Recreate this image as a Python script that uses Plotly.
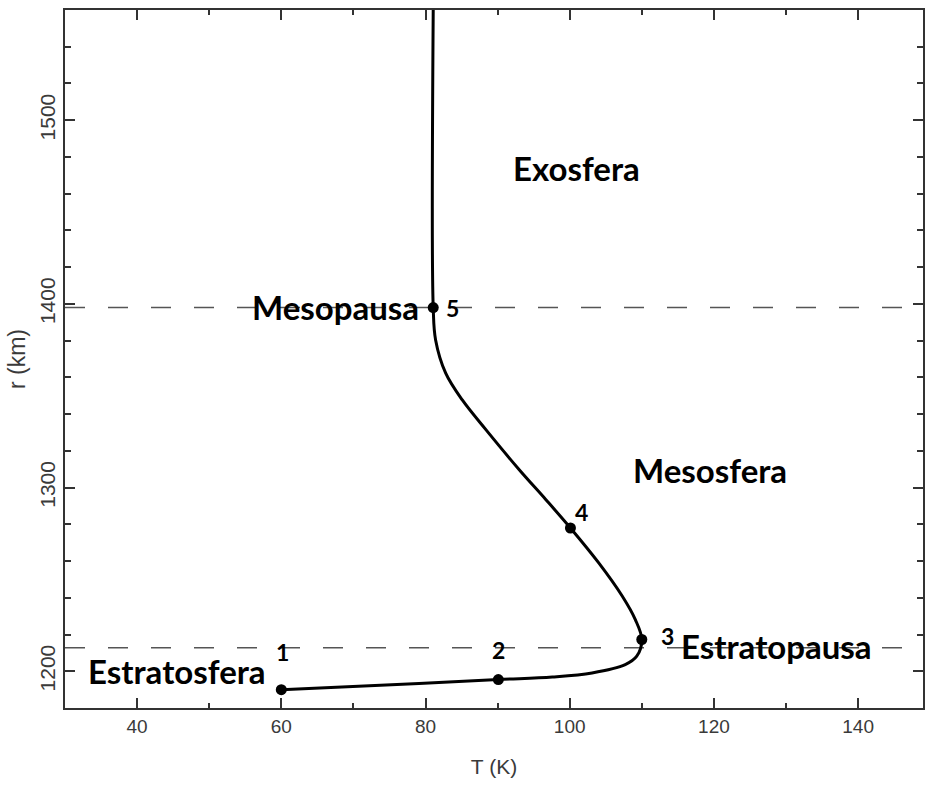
import plotly.graph_objects as go

# Temperature profile
profile_T = [60, 79.1, 90.1, 97.6, 103.1, 107.7, 109.3, 110.0, 109.1, 107.3, 104.0, 100.1,
             96.7, 93.0, 88.4, 85.1, 82.8, 81.4, 81.07, 81.07]
profile_r = [1190, 1193.3, 1195.5, 1196.9, 1199.1, 1203.6, 1208.2, 1217.3, 1228.1, 1240.8, 1259.1, 1278,
             1293.4, 1309.7, 1331.4, 1347.7, 1362.3, 1380.4, 1398, 1560]

# Marked points
point_T = [60, 90.1, 110.0, 100.1, 81.07]
point_r = [1190, 1195.5, 1217.3, 1278, 1398]
point_labels = ["1", "2", "3", "4", "5"]
label_T = [60.2, 90.1, 113.5, 101.7, 83.8]
label_r = [1210.7, 1211.8, 1219.4, 1286.8, 1397.8]

# Boundaries (dashed lines)
boundary_r = [1398, 1212.8]

# Region names
region_names = ["Exosfera", "Mesosfera", "Estratopausa", "Estratosfera", "Mesopausa"]
region_T = [101.0, 119.4, 128.7, 45.5, 67.5]
region_r = [1474, 1309.7, 1214.0, 1200.4, 1398.4]

x_range = [30, 149]
y_range = [1180, 1560]

fig = go.Figure()

for rb in boundary_r:
    fig.add_trace(go.Scatter(
        x=x_range, y=[rb, rb], mode="lines",
        line=dict(color="#555555", width=1.4, dash="20px,23px"),
        hoverinfo="skip", showlegend=False))

fig.add_trace(go.Scatter(
    x=profile_T, y=profile_r, mode="lines",
    line=dict(color="black", width=3, shape="spline", smoothing=1.0),
    showlegend=False))

fig.add_trace(go.Scatter(
    x=point_T, y=point_r, mode="markers",
    marker=dict(color="black", size=11),
    showlegend=False))

for t, r, s in zip(label_T, label_r, point_labels):
    fig.add_annotation(x=t, y=r, text=s, showarrow=False,
                       font=dict(family="Lato", size=23, color="black", weight="bold"))

for t, r, s in zip(region_T, region_r, region_names):
    fig.add_annotation(x=t, y=r, text=s, showarrow=False,
                       font=dict(family="Lato", size=33, color="black", weight="bold"))

axis_common = dict(
    showgrid=False, zeroline=False, showline=True, linecolor="#333333", linewidth=1.5,
    mirror="ticks", ticks="inside", ticklen=10, tickwidth=1.5, tickcolor="#333333",
)

fig.update_xaxes(
    range=x_range, dtick=20, tick0=0,
    tickfont=dict(family="Liberation Sans", size=19, color="#3a3a3a"),
    minor=dict(ticks="inside", dtick=10, ticklen=5, tickwidth=1.5, tickcolor="#333333"),
    title=dict(text="T (K)", font=dict(family="Liberation Sans", size=21, color="#3a3a3a"), standoff=24),
    **axis_common)
fig.update_yaxes(
    range=y_range, dtick=100, tick0=0, tickangle=-90,
    tickfont=dict(family="Liberation Sans", size=21, color="#3a3a3a"),
    minor=dict(ticks="inside", dtick=20, ticklen=6, tickwidth=1.5, tickcolor="#333333"),
    title=dict(text="r (km)", font=dict(family="Liberation Sans", size=23, color="#3a3a3a"), standoff=4),
    **axis_common)

fig.update_layout(
    width=926, height=785,
    margin=dict(l=65, r=1, t=10, b=77),
    paper_bgcolor="white", plot_bgcolor="white",
)

fig.write_html("out.html", config={"displayModeBar": False},
               post_script="document.body.style.margin='0';document.body.style.overflow='hidden';")
